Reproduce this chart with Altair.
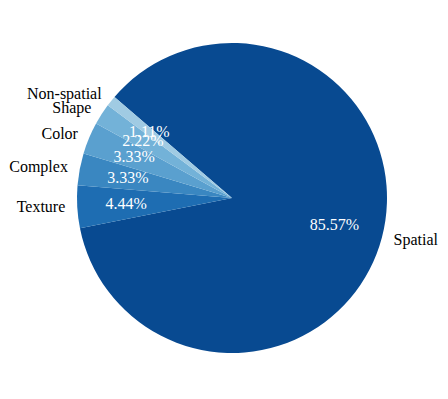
import math
import altair as alt
import pandas as pd

categories = ["Spatial", "Texture", "Complex", "Color", "Shape", "Non-spatial"]
shares = [85.57, 4.44, 3.33, 3.33, 2.22, 1.11]
colors = ["#084a91", "#1e6db2", "#3a87c1", "#5aa0cf", "#73b2d8", "#a0cbe3"]

df = pd.DataFrame({"category": categories, "value": shares, "idx": list(range(len(categories)))})

start_deg = 310.7
start = math.radians(start_deg)
theta_scale = alt.Scale(range=[start, start + 2 * math.pi])

cx, cy = 224, 190

base = alt.Chart(df).transform_joinaggregate(
    total="sum(value)"
).transform_window(
    cum="sum(value)", sort=[alt.SortField("idx")], frame=[None, 0]
).transform_calculate(
    ang=f"({start_deg} + 360 * (datum.cum - datum.value / 2) / datum.total) % 360",
    pct="format(datum.value, '.2f') + '%'",
).transform_calculate(
    labR="datum.ang < 180 ? datum.category : ''",
    labL="datum.ang >= 180 ? datum.category : ''",
).encode(
    theta=alt.Theta("value:Q", stack=True, scale=theta_scale),
    order=alt.Order("idx:Q"),
    x=alt.value(cx),
    y=alt.value(cy),
)

arcs = base.mark_arc(radius=155, stroke=None).encode(
    color=alt.Color("category:N", scale=alt.Scale(domain=categories, range=colors), legend=None)
)

pct = base.mark_text(radius=106, font="Liberation Serif", fontSize=16, color="white",
                     align="center", baseline="middle").encode(text="pct:N")

lab_r = base.mark_text(radius=167, font="Liberation Serif", fontSize=16, color="black",
                       align="left", baseline="middle").encode(text="labR:N")
lab_l = base.mark_text(radius=167, font="Liberation Serif", fontSize=16, color="black",
                       align="right", baseline="middle").encode(text="labL:N")

chart = alt.layer(arcs, pct, lab_r, lab_l).properties(
    width=432, height=380, padding=0,
    autosize=alt.AutoSizeParams(type="none"),
).configure_view(stroke=None)

chart.save("out.html", embed_options={"renderer": "svg", "actions": False})
